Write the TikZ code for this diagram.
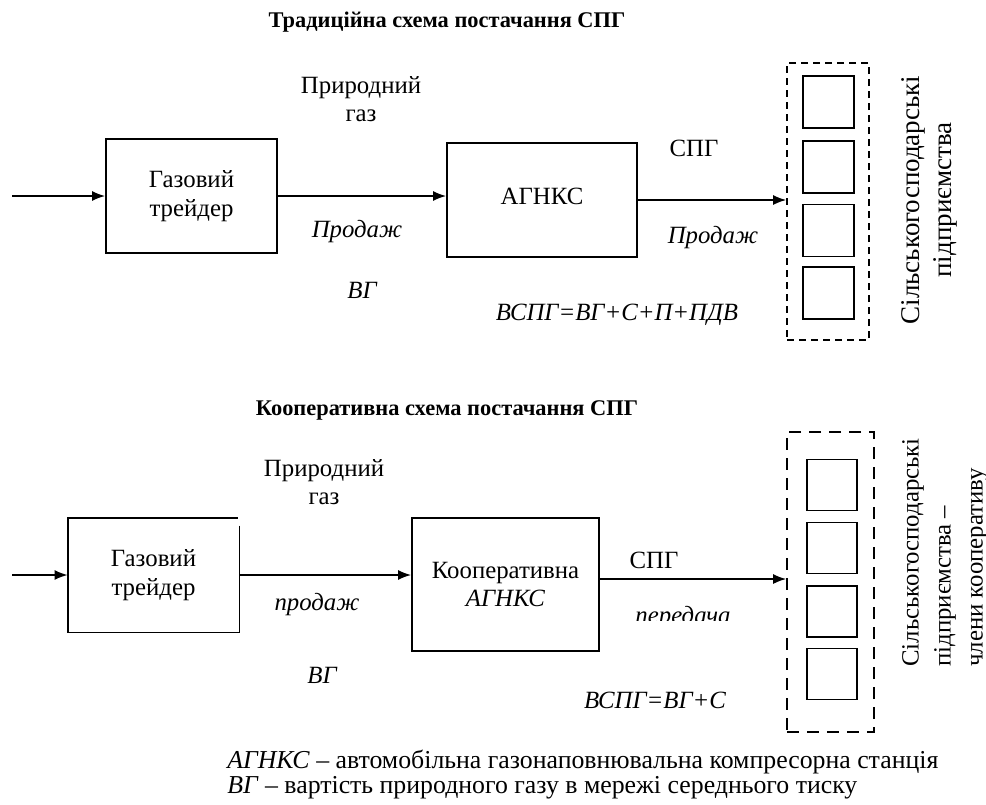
\documentclass[tikz,border=0pt]{standalone}
\usepackage{fontspec}
\setmainfont{Liberation Serif}
\usetikzlibrary{arrows.meta,calc}
\begin{document}
\begin{tikzpicture}[x=0.5pt,y=-0.5pt,
  every node/.style={font=\fontsize{12.4}{14.3}\selectfont, inner sep=0pt},
  box/.style={draw, line width=0.9pt, minimum width=#1},
  sq/.style={draw, line width=0.9pt, minimum width=25.5pt, minimum height=26pt},
  grp/.style={draw, line width=0.8pt},
  arr/.style={line width=0.8pt, -{Latex[length=6.5pt,width=5pt]}},
  ttl/.style={font=\fontsize{11.2}{13}\selectfont\bfseries},
  it/.style={font=\fontsize{12.4}{14.3}\selectfont\itshape},
  rot/.style={rotate=90, font=\fontsize{13.5}{16}\selectfont},
  rotb/.style={rotate=90, font=\fontsize{12.4}{16}\selectfont},
  lg/.style={font=\fontsize{12.9}{13}\selectfont, align=left, anchor=west}
]
\useasboundingbox (0,0) rectangle (986,804);

% ---------- top scheme ----------
\node[ttl] (title1) at (447,22) {Традиційна схема постачання СПГ};
\node[align=center] (tgas) at (361,99) {Природний\\газ};

\node[box=85.5pt, minimum height=57pt, align=center] (ttrader) at (191.5,196) {Газовий\\трейдер};
\node[box=95pt, minimum height=57pt] (tagnks) at (542,200) {\raisebox{3.5pt}{АГНКС}};
\node[grp, dash pattern=on 3.5pt off 2.5pt, minimum width=41pt, minimum height=138.5pt] (tgroup) at (828,201.5) {};
\node[sq] (ts1) at (828.5,102) {};
\node[sq] (ts2) at (828.5,167) {};
\node[sq] (ts3) at (828.5,230.5) {};
\node[sq] (ts4) at (828.5,293) {};

\coordinate (tin) at (12,196);
\draw[arr] (tin) -- (ttrader.west);
\draw[arr] (ttrader.east) -- (ttrader.east -| tagnks.west);
\draw[arr] (tagnks.east) -- (tagnks.east -| tgroup.west);

\node[it] (tsale1) at (357,232) {Продаж};
\node[it] (tvg) at (362,290) {ВГ};
\node (tspg) at (694,148) {СПГ};
\node[it] (tsale2) at (713,238) {Продаж};
\node[it] (tform) at (617,315) {ВСПГ=ВГ+С+П+ПДВ};
\node[rot, align=center] (tfarm) at (929,200) {Сільськогосподарські\\підприємства};

% ---------- bottom scheme ----------
\node[ttl] (title2) at (447,410) {Кооперативна схема постачання СПГ};
\node[align=center] (bgas) at (324,482) {Природний\\газ};

\node[minimum width=85.5pt, minimum height=57pt, align=center] (btrader) at (153.5,575) {Газовий\\трейдер};
\draw[line width=0.9pt] ($(btrader.north east)+(0,8)$) -- (btrader.south east) -- (btrader.south west) -- (btrader.north west) -- ($(btrader.north east)+(-1,0)$);
\node[box=93.5pt, minimum height=66.5pt, align=center] (bcoop) at (505.5,584.5) {Кооперативна\\\textit{АГНКС}};
\node[grp, dash pattern=on 6pt off 4pt, minimum width=43.5pt, minimum height=150pt] (bgroup) at (830.5,582) {};
\node[sq, minimum width=25pt, minimum height=25.5pt] (bs1) at (832,485) {};
\node[sq, minimum width=25pt, minimum height=25.5pt] (bs2) at (832,548) {};
\node[sq, minimum width=25pt, minimum height=25.5pt] (bs3) at (832,611.5) {};
\node[sq, minimum width=25pt, minimum height=25.5pt] (bs4) at (832,674) {};

\coordinate (bin) at (12,575);
\draw[arr] (bin) -- (btrader.west);
\draw[arr] (btrader.east) -- (btrader.east -| bcoop.west);
\draw[arr] ([yshift=2.75pt]bcoop.east) -- ([yshift=2.75pt]bcoop.east -| bgroup.west);

\node[it] (bsale) at (317,605) {продаж};
\node[it] (bvg) at (322,675) {ВГ};
\node (bspg) at (654,560) {СПГ};
\begin{scope}
\clip (600,590) rectangle (760,620);
\node[it] (btrans) at (683,618) {передача};
\end{scope}
\node[it] (bform) at (655,700) {ВСПГ=ВГ+С};
\node[rotb, align=left, anchor=west] (bfarm) at (945,667) {Сільськогосподарські\\підприємства –\\члени кооперативу};

% ---------- legend ----------
\node[lg] (leg1) at (227,762) {\textit{АГНКС} – автомобільна газонаповнювальна компресорна станція};
\node[lg] (leg2) at (227,788) {\textit{ВГ} – вартість природного газу в мережі середнього тиску};
\end{tikzpicture}
\end{document}
